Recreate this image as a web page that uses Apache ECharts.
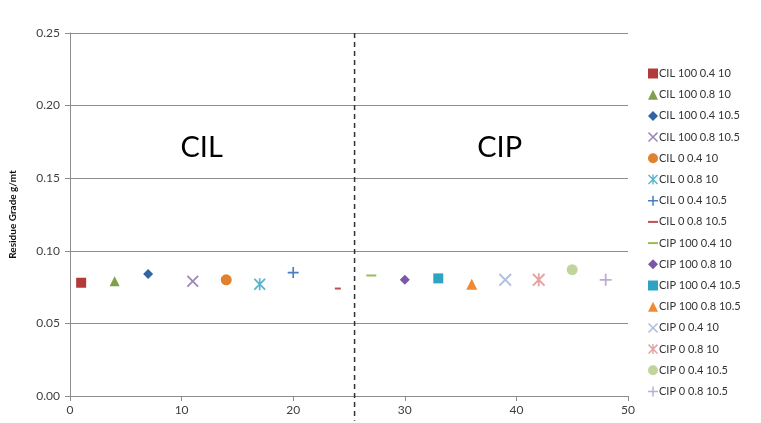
<!DOCTYPE html>
<html><head><meta charset="utf-8">
<script src="https://cdn.jsdelivr.net/npm/echarts@6/dist/echarts.min.js"></script>
<style>html,body{margin:0;padding:0;background:#fff}#c{width:761px;height:423px}</style>
</head><body><div id="c"></div>
<script>
const seriesNames = ["CIL 100 0.4 10","CIL 100 0.8 10","CIL 100 0.4 10.5","CIL 100 0.8 10.5","CIL 0 0.4 10","CIL 0 0.8 10","CIL 0 0.4 10.5","CIL 0 0.8 10.5","CIP 100 0.4 10","CIP 100 0.8 10","CIP 100 0.4 10.5","CIP 100 0.8 10.5","CIP 0 0.4 10","CIP 0 0.8 10","CIP 0 0.4 10.5","CIP 0 0.8 10.5"];
const xValues = [1,4,7,11,14,17,20,24,27,30,33,36,39,42,45,48];
const yValues = [0.078,0.079,0.084,0.079,0.080,0.077,0.085,0.074,0.083,0.080,0.081,0.077,0.080,0.080,0.087,0.080];
const colors = ["#B23B3A","#7FA04A","#3463A3","#9C88BC","#E0812F","#5BB4CC","#4A7EC0","#C0504D","#9BBB59","#7A58A6","#2FA3C4","#F08A2E","#AFC0E0","#E2A3A2","#BFD59A","#BCADD3"];
const PLUS = 'path://M4.25,0h1.5v10h-1.5z M0,4.25h10v1.5h-10z';
const XS = 'path://M0,1.06L1.06,0L10,8.94L8.94,10z M8.94,0L10,1.06L1.06,10L0,8.94z';
const AST = 'path://M0,1.06L1.06,0L10,8.94L8.94,10z M8.94,0L10,1.06L1.06,10L0,8.94z M4.3,0h1.4v10h-1.4z';
const DASH = 'path://M0,0h10v2h-10z';
const symbols = ['rect','triangle','diamond',XS,'circle',AST,PLUS,DASH,DASH,'diamond','rect','triangle',XS,AST,'circle',PLUS];
const sizes = [10,10,10,12,11,12,11,[6,2],[10,2],10,10,11,13,13,11,12];
const dividerX = 25.5;
const dividerYTop = 0.25;
const dividerYBottom = -0.017;
const regionLabels = [{text:'CIL', x:11.8, y:0.171}, {text:'CIP', x:38.5, y:0.171}];

const chart = echarts.init(document.getElementById('c'));
const series = seriesNames.map((n,i)=>({
  name:n, type:'scatter', data:[[xValues[i], yValues[i]]],
  symbol:symbols[i], symbolSize:sizes[i], itemStyle:{color:colors[i], opacity:1}
}));
const fontFam = 'Lato, "Open Sans", sans-serif';
chart.setOption({
  animation:false,
  grid:{left:70,right:133,top:33,bottom:27},
  xAxis:{type:'value',min:0,max:50,interval:10,
    axisLine:{lineStyle:{color:'#8c8c8c'}},axisTick:{show:true,length:5,lineStyle:{color:'#8c8c8c'}},
    splitLine:{show:false},axisLabel:{color:'#404040',fontSize:12,fontFamily:fontFam,margin:8}},
  yAxis:{type:'value',min:0,max:0.25,interval:0.05,
    name:'Residue Grade g/mt',nameLocation:'middle',nameGap:52,
    nameTextStyle:{fontSize:10,fontWeight:'bold',color:'#111',fontFamily:fontFam},
    axisLine:{show:true,lineStyle:{color:'#8c8c8c'}},axisTick:{show:true,length:5,inside:false,lineStyle:{color:'#8c8c8c'}},
    splitLine:{lineStyle:{color:'#8c8c8c'}},
    axisLabel:{color:'#404040',fontSize:12,fontFamily:fontFam,formatter:v=>v.toFixed(2),margin:10}},
  legend:{orient:'vertical',left:643,top:63,itemWidth:10,itemHeight:10,itemGap:10.2,
    textStyle:{fontSize:11,color:'#333',fontFamily:fontFam,padding:[0,0,0,-4]},
    data:seriesNames},
  series
});
const p1 = chart.convertToPixel({gridIndex:0},[dividerX,dividerYTop]);
const p2 = chart.convertToPixel({gridIndex:0},[dividerX,dividerYBottom]);
const g = [{type:'line',shape:{x1:p1[0],y1:p1[1],x2:p2[0],y2:p2[1]},
  style:{stroke:'#333',lineWidth:1.5,lineDash:[5,4]},z:10}];
regionLabels.forEach(r=>{
  const p = chart.convertToPixel({gridIndex:0},[r.x,r.y]);
  g.push({type:'text',x:p[0],y:p[1],style:{text:r.text,font:'29px '+fontFam,fill:'#000',align:'center',verticalAlign:'middle'}});
});
chart.setOption({graphic:g});
</script></body></html>
